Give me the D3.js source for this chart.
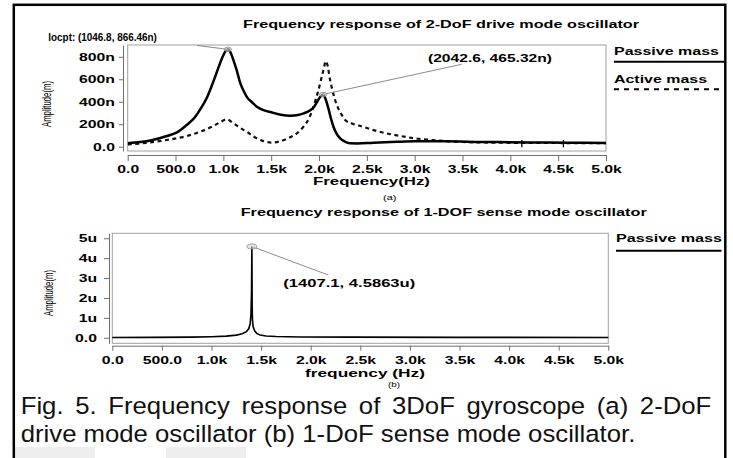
<!DOCTYPE html>
<html>
<head>
<meta charset="utf-8">
<script src="https://cdnjs.cloudflare.com/ajax/libs/d3/7.8.5/d3.min.js"></script>
<style>
  html, body { margin: 0; padding: 0; background: #fff; }
  svg { display: block; }
  .bold { font-family: "Liberation Sans", Arial, sans-serif; font-weight: bold; fill: #000; }
  .reg { font-family: "Liberation Sans", Arial, sans-serif; fill: #000; }
</style>
</head>
<body>
<svg id="chart" width="733" height="458"></svg>
<script>
// ---------------- DATA ----------------
const xTicks = [0, 500, 1000, 1500, 2000, 2500, 3000, 3500, 4000, 4500, 5000];
const yTicksA = [0, 200, 400, 600, 800];          // nm
const yTicksB = [0, 1, 2, 3, 4, 5];               // um

// (a) Passive mass (solid), frequency Hz / amplitude nm
const passiveFreqA = [0, 130, 250, 410, 520, 620, 700, 760, 830, 900, 960, 1000, 1046.8, 1080, 1105, 1140, 1175, 1210, 1245, 1300, 1350, 1420, 1500, 1600, 1700, 1780, 1840, 1900, 1945, 1980, 2010, 2042.6, 2070, 2098, 2125, 2151, 2185, 2221, 2270, 2325, 2400, 2569, 2814, 3000, 3300, 3700, 4200, 4600, 5000];
const passiveAmpA  = [32, 42, 58, 95, 130, 195, 260, 335, 440, 590, 730, 815, 866.46, 830, 771, 680, 570, 500, 444, 395, 356, 325, 306, 285, 276, 282, 297, 320, 352, 400, 440, 465.32, 420, 341, 250, 178, 115, 75, 45, 30, 29, 36, 44, 48, 48, 43, 38, 36, 34];

// (a) Active mass (dashed)
const activeFreqA = [0, 200, 408, 617, 756, 895, 960, 1035, 1105, 1170, 1245, 1300, 1349, 1420, 1500, 1600, 1698, 1770, 1837, 1900, 1942, 1994, 2046, 2071, 2090, 2116, 2150, 2186, 2230, 2273, 2350, 2450, 2569, 2700, 2800, 3000, 3200, 3500, 4000, 4500, 5000];
const activeAmpA  = [21, 35, 60, 95, 133, 184, 215, 243, 208, 170, 133, 100, 75, 50, 37, 50, 84, 120, 178, 260, 356, 504, 682, 762, 720, 593, 470, 371, 295, 237, 205, 180, 148, 120, 103, 75, 58, 42, 35, 33, 31];

// small vertical marks on the tail of (a)
const tickMarkFreqA = [4120, 4555];

// (b) Passive mass, frequency Hz / amplitude um
const freqB = [0, 400, 800, 1000, 1150, 1250, 1310, 1350, 1375, 1390, 1398, 1403, 1405.5, 1407.1, 1408.5, 1410, 1413, 1420, 1435, 1455, 1490, 1550, 1650, 1900, 2400, 3500, 5000];
const ampB  = [0.01, 0.02, 0.03, 0.05, 0.08, 0.13, 0.2, 0.3, 0.45, 0.7, 1.2, 2.2, 3.5, 4.5863, 3.1, 1.6, 0.9, 0.55, 0.35, 0.22, 0.14, 0.09, 0.06, 0.04, 0.03, 0.02, 0.01];

const peaksA = [{f: 1046.8, a: 866.46}, {f: 2042.6, a: 465.32}];
const peakB = {f: 1407.1, a: 4.5863};

const titleA = "Frequency response of 2-DoF drive mode oscillator";
const titleB = "Frequency response of 1-DOF sense mode oscillator";
const captionLine1 = "Fig. 5. Frequency response of 3DoF gyroscope (a) 2-DoF";
const captionLine2 = "drive mode oscillator (b) 1-DoF sense mode oscillator.";

// ---------------- DRAW ----------------
const svg = d3.select("#chart");
svg.append("rect").attr("x", 0).attr("y", 0).attr("width", 733).attr("height", 458).attr("fill", "#fff");

// faint watermark blocks at the bottom of the page
svg.append("rect").attr("x", 15).attr("y", 447).attr("width", 80).attr("height", 11).attr("fill", "#eeeeee");
svg.append("rect").attr("x", 166).attr("y", 447).attr("width", 80).attr("height", 11).attr("fill", "#eeeeee");

const SX = 1.5; // horizontal stretch of the chart lettering
const FS = 10.5;

function fitText(str, x, y, w, cls, size) {
  return svg.append("text").attr("class", cls).attr("x", x).attr("y", y)
    .attr("font-size", size).attr("textLength", w).attr("lengthAdjust", "spacingAndGlyphs").text(str);
}
function fmtX(v) { return v === 0 ? "0.0" : (v === 500 ? "500.0" : (v / 1000).toFixed(1) + "k"); }

function styleAxis(g, kind, off) {
  g.select(".domain").attr("stroke", "#6e6e6e").attr("stroke-width", 1);
  g.selectAll(".tick line").attr("stroke", "#6e6e6e").attr("stroke-width", 1);
  g.selectAll(".tick text").attr("class", "bold").attr("font-size", FS)
    .attr("fill", "#000").attr("x", null).attr("y", null).attr("dy", kind === "y" ? "0.35em" : null)
    .attr("transform", kind === "y" ? `translate(${off},0) scale(${SX},1)` : `translate(0,${off}) scale(${SX},1)`);
  g.attr("font-family", null).attr("font-size", null);
}

// ---------- panel (a) ----------
const xA = d3.scaleLinear().domain([0, 5000]).range([127.7, 606]);
const yA = d3.scaleLinear().domain([-38, 905]).range([151, 45]);

svg.append("rect").attr("x", 127.7).attr("y", 45).attr("width", 606 - 127.7).attr("height", 106)
  .attr("fill", "none").attr("stroke", "#a0a0a0").attr("stroke-width", 1);

const gxA = svg.append("g").attr("transform", "translate(0,155)")
  .call(d3.axisBottom(xA).tickValues(xTicks).tickFormat(fmtX).tickSize(6).tickSizeOuter(0));
styleAxis(gxA, "x", 18.3);
const gyA = svg.append("g").attr("transform", "translate(123,0)")
  .call(d3.axisLeft(yA).tickValues(yTicksA).tickFormat(v => v === 0 ? "0.0" : v + "n").tickSize(4).tickSizeOuter(0));
styleAxis(gyA, "y", -8);

const lineA = d3.line().x(d => xA(d[0])).y(d => yA(d[1])).curve(d3.curveMonotoneX);
svg.append("clipPath").attr("id", "clipA").append("rect")
  .attr("x", 127.7).attr("y", 45).attr("width", 606 - 127.7).attr("height", 106);

svg.append("path").attr("clip-path", "url(#clipA)")
  .datum(activeFreqA.map((f, i) => [f, activeAmpA[i]]))
  .attr("d", lineA).attr("fill", "none").attr("stroke", "#111").attr("stroke-width", 2.2)
  .attr("stroke-dasharray", "4,3.5");
svg.append("path").attr("clip-path", "url(#clipA)")
  .datum(passiveFreqA.map((f, i) => [f, passiveAmpA[i]]))
  .attr("d", lineA).attr("fill", "none").attr("stroke", "#000").attr("stroke-width", 2.5);

svg.selectAll(".tmA").data(tickMarkFreqA).enter().append("line")
  .attr("x1", d => xA(d)).attr("x2", d => xA(d)).attr("y1", yA(60)).attr("y2", yA(-5))
  .attr("stroke", "#000").attr("stroke-width", 1.3);

// annotations (a)
svg.append("line").attr("x1", 197).attr("y1", 45.5).attr("x2", xA(peaksA[0].f)).attr("y2", yA(peaksA[0].a))
  .attr("stroke", "#8a8a8a").attr("stroke-width", 1);
svg.append("line").attr("x1", xA(peaksA[1].f)).attr("y1", yA(peaksA[1].a)).attr("x2", 461.7).attr("y2", 64.3)
  .attr("stroke", "#8a8a8a").attr("stroke-width", 1);
svg.selectAll(".pkA").data(peaksA).enter().append("ellipse")
  .attr("cx", d => xA(d.f)).attr("cy", d => yA(d.a)).attr("rx", 3.6).attr("ry", 2.2)
  .attr("fill", "#d0d0d0").attr("fill-opacity", 0.6).attr("stroke", "#888").attr("stroke-width", 0.8);

fitText(titleA, 243, 28, 396, "bold", FS);
fitText("locpt: (1046.8, 866.46n)", 48.3, 40.8, 108.5, "bold", FS);
fitText("(2042.6, 465.32n)", 428, 61.8, 124, "bold", FS);
fitText("Frequency(Hz)", 313, 185, 117, "bold", FS);
fitText("(a)", 383, 199.5, 13.5, "reg", 7.5);
svg.append("text").attr("class", "reg").attr("font-size", 8.5)
  .attr("text-anchor", "middle")
  .attr("transform", `translate(50.5,104) scale(1.45,1) rotate(-90)`)
  .attr("textLength", 46).attr("lengthAdjust", "spacingAndGlyphs")
  .text("Amplitude(m)");

// legend (a)
fitText("Passive mass", 614, 54.8, 105, "bold", FS);
svg.append("line").attr("x1", 614).attr("x2", 724).attr("y1", 61.7).attr("y2", 61.7)
  .attr("stroke", "#000").attr("stroke-width", 2);
fitText("Active mass", 614, 82.8, 93, "bold", FS);
svg.append("line").attr("x1", 614).attr("x2", 724).attr("y1", 89.3).attr("y2", 89.3)
  .attr("stroke", "#000").attr("stroke-width", 2).attr("stroke-dasharray", "5,5");

// ---------- panel (b) ----------
const xB = d3.scaleLinear().domain([0, 5000]).range([112.3, 608.3]);
const yB = d3.scaleLinear().domain([-0.28, 5.25]).range([343.3, 233.3]);

svg.append("rect").attr("x", 112.3).attr("y", 233.3).attr("width", 608.3 - 112.3).attr("height", 110)
  .attr("fill", "none").attr("stroke", "#a0a0a0").attr("stroke-width", 1);

const gxB = svg.append("g").attr("transform", "translate(0,345.7)")
  .call(d3.axisBottom(xB).tickValues(xTicks).tickFormat(fmtX).tickSize(5).tickSizeOuter(0));
styleAxis(gxB, "x", 18);
const gyB = svg.append("g").attr("transform", "translate(109,0)")
  .call(d3.axisLeft(yB).tickValues(yTicksB).tickFormat(v => v === 0 ? "0.0" : v + "u").tickSize(5).tickSizeOuter(0));
styleAxis(gyB, "y", -12);

const lineB = d3.line().x(d => xB(d[0])).y(d => yB(d[1])).curve(d3.curveLinear);
svg.append("path").datum(freqB.map((f, i) => [f, ampB[i]]))
  .attr("d", lineB).attr("fill", "none").attr("stroke", "#000").attr("stroke-width", 1.6);

svg.append("line").attr("x1", xB(peakB.f)).attr("y1", yB(peakB.a)).attr("x2", 328.3).attr("y2", 275)
  .attr("stroke", "#8a8a8a").attr("stroke-width", 1);
svg.append("ellipse").attr("cx", xB(peakB.f)).attr("cy", yB(peakB.a)).attr("rx", 5).attr("ry", 2.5)
  .attr("fill", "#d0d0d0").attr("fill-opacity", 0.6).attr("stroke", "#888").attr("stroke-width", 0.8);

fitText(titleB, 240.7, 215.5, 406, "bold", FS);
fitText("(1407.1, 4.5863u)", 283.3, 287, 132, "bold", FS);
fitText("frequency (Hz)", 305, 377.3, 120, "bold", FS);
fitText("(b)", 388, 387, 12, "reg", 7.5);
svg.append("text").attr("class", "reg").attr("font-size", 8.5)
  .attr("text-anchor", "middle")
  .attr("transform", `translate(53,293) scale(1.45,1) rotate(-90)`)
  .attr("textLength", 46).attr("lengthAdjust", "spacingAndGlyphs")
  .text("Amplitude(m)");

fitText("Passive mass", 616, 242.2, 106, "bold", FS);
svg.append("line").attr("x1", 616).attr("x2", 721.5).attr("y1", 250.7).attr("y2", 250.7)
  .attr("stroke", "#000").attr("stroke-width", 2);

// ---------- caption ----------
const capFont = "'Liberation Sans', Arial, sans-serif";
const CFS = 24.5;
const cap2 = svg.append("text").attr("font-family", capFont)
  .attr("font-size", CFS).attr("fill", "#111").attr("x", 0).attr("y", 0).text(captionLine2);
const w2 = cap2.node().getComputedTextLength();
const r = 615 / w2;
cap2.attr("transform", `translate(20.7,442) scale(${r},1)`);
const cap1 = svg.append("text").attr("font-family", capFont)
  .attr("font-size", CFS).attr("fill", "#111").attr("x", 0).attr("y", 0).text(captionLine1);
const w1 = cap1.node().getComputedTextLength();
const nSp = captionLine1.split(" ").length - 1;
cap1.attr("word-spacing", (691 / r - w1) / nSp).attr("transform", `translate(20.7,413.5) scale(${r},1)`);

// ---------- outer frame ----------
svg.append("rect").attr("x", 13.8).attr("y", 4.8).attr("width", 711.5).attr("height", 520)
  .attr("fill", "none").attr("stroke", "#000").attr("stroke-width", 2.5);
</script>
</body>
</html>
